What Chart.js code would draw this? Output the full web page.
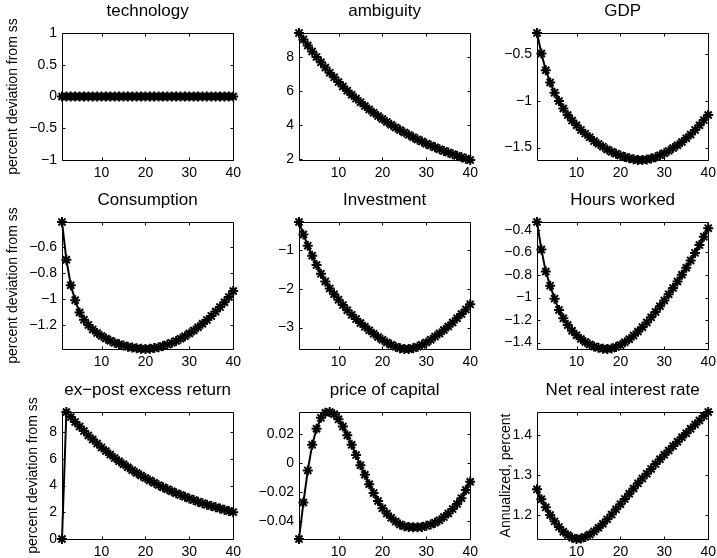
<!DOCTYPE html>
<html>
<head>
<meta charset="utf-8">
<script src="https://cdn.jsdelivr.net/npm/chart.js@4.4.1/dist/chart.umd.min.js"></script>
<style>
  html, body { margin: 0; padding: 0; background: #fff; }
  #fig { position: relative; width: 717px; height: 558px; overflow: hidden; }
  #fig canvas { position: absolute; }
</style>
</head>
<body>
<div id="fig"></div>
<script>
// quarters after the shock
const periods = [1, 2, 3, 4, 5, 6, 7, 8, 9, 10, 11, 12, 13, 14, 15, 16, 17, 18, 19, 20,
                 21, 22, 23, 24, 25, 26, 27, 28, 29, 30, 31, 32, 33, 34, 35, 36, 37, 38, 39, 40];
const xTicks = [10, 20, 30, 40];

// impulse responses
const technology = [0, 0, 0, 0, 0, 0, 0, 0, 0, 0, 0, 0, 0, 0, 0, 0, 0, 0, 0, 0,
                    0, 0, 0, 0, 0, 0, 0, 0, 0, 0, 0, 0, 0, 0, 0, 0, 0, 0, 0, 0];
const ambiguity = [9.45, 9.07, 8.71, 8.36, 8.03, 7.71, 7.40, 7.10, 6.82, 6.54,
                   6.28, 6.03, 5.79, 5.56, 5.34, 5.12, 4.92, 4.72, 4.53, 4.35,
                   4.18, 4.01, 3.85, 3.70, 3.55, 3.41, 3.27, 3.14, 3.01, 2.89,
                   2.78, 2.67, 2.56, 2.46, 2.36, 2.26, 2.17, 2.09, 2.00, 1.92];
const gdp = [-0.27, -0.49, -0.67, -0.80, -0.91, -1.00, -1.08, -1.15, -1.21, -1.26,
             -1.31, -1.35, -1.39, -1.43, -1.46, -1.49, -1.52, -1.545, -1.565, -1.585,
             -1.60, -1.615, -1.625, -1.632, -1.633, -1.628, -1.618, -1.603, -1.583, -1.56,
             -1.535, -1.505, -1.475, -1.44, -1.40, -1.36, -1.31, -1.26, -1.205, -1.15];
const consumption = [-0.41, -0.70, -0.895, -1.01, -1.105, -1.16, -1.20, -1.235, -1.262, -1.285,
                     -1.305, -1.322, -1.337, -1.349, -1.359, -1.367, -1.374, -1.379, -1.383, -1.385,
                     -1.383, -1.378, -1.371, -1.362, -1.351, -1.338, -1.323, -1.306, -1.287, -1.266,
                     -1.243, -1.218, -1.191, -1.162, -1.131, -1.098, -1.063, -1.026, -0.985, -0.94];
const investment = [-0.28, -0.60, -0.89, -1.15, -1.39, -1.61, -1.81, -1.99, -2.14, -2.28,
                    -2.42, -2.55, -2.67, -2.78, -2.88, -2.98, -3.07, -3.16, -3.24, -3.31,
                    -3.38, -3.44, -3.49, -3.53, -3.55, -3.55, -3.53, -3.49, -3.44, -3.38,
                    -3.31, -3.23, -3.15, -3.06, -2.97, -2.87, -2.76, -2.65, -2.53, -2.40];
const hours = [-0.33, -0.575, -0.77, -0.895, -1.01, -1.11, -1.185, -1.245, -1.295, -1.335,
               -1.368, -1.395, -1.417, -1.434, -1.446, -1.454, -1.457, -1.452, -1.44, -1.422,
               -1.398, -1.37, -1.338, -1.302, -1.263, -1.221, -1.176, -1.128, -1.078, -1.026,
               -0.972, -0.916, -0.858, -0.798, -0.736, -0.671, -0.604, -0.535, -0.46, -0.385];
const excessReturn = [0, 9.50, 9.12, 8.76, 8.41, 8.07, 7.75, 7.44, 7.14, 6.85,
                      6.58, 6.32, 6.06, 5.82, 5.59, 5.36, 5.15, 4.94, 4.75, 4.56,
                      4.37, 4.20, 4.03, 3.87, 3.72, 3.57, 3.42, 3.29, 3.16, 3.03,
                      2.91, 2.79, 2.68, 2.57, 2.47, 2.37, 2.28, 2.19, 2.10, 2.01];
const priceCapital = [-0.052, -0.027, -0.005, 0.0125, 0.0235, 0.031, 0.0345, 0.035, 0.0335, 0.030,
                      0.025, 0.019, 0.0125, 0.0055, -0.0015, -0.008, -0.0145, -0.0205, -0.026, -0.031,
                      -0.0345, -0.0375, -0.040, -0.042, -0.0432, -0.0438, -0.044, -0.044, -0.0437, -0.043,
                      -0.042, -0.0408, -0.0392, -0.037, -0.0345, -0.0315, -0.028, -0.024, -0.0185, -0.0128];
const realRate = [1.264, 1.239, 1.219, 1.200, 1.184, 1.170, 1.158, 1.150, 1.143, 1.140,
                  1.141, 1.145, 1.151, 1.159, 1.168, 1.178, 1.189, 1.201, 1.214, 1.227,
                  1.240, 1.253, 1.266, 1.279, 1.291, 1.303, 1.315, 1.327, 1.339, 1.350,
                  1.361, 1.372, 1.383, 1.394, 1.404, 1.415, 1.426, 1.436, 1.447, 1.457];

// y tick labels per panel
const techTicks = [-1, -0.5, 0, 0.5, 1];
const ambTicks = [2, 4, 6, 8];
const gdpTicks = [-1.5, -1, -0.5];
const consTicks = [-1.2, -1, -0.8, -0.6];
const invTicks = [-3, -2, -1];
const hoursTicks = [-1.4, -1.2, -1, -0.8, -0.6, -0.4];
const excessTicks = [0, 2, 4, 6, 8];
const priceTicks = [-0.04, -0.02, 0, 0.02];
const rateTicks = [1.2, 1.3, 1.4];

const yLabelDev = 'percent deviation from ss';
const yLabelRate = 'Annualized, percent';

// =======================================================
// LAYOUT (matlab subplot 3x3)
// =======================================================
const colLeft = [62, 299, 537];
const rowTop = [33, 222, 412];
const boxW = 172, boxH = 127;
const padL = 62, padT = 33, padR = 12, padB = 24;

Chart.defaults.font.family = '"Liberation Sans", Arial, Helvetica, sans-serif';
Chart.defaults.color = '#000';

const fmt = v => (v < 0 ? '\u2212' : '') + String(Math.abs(v));

// frame on all four sides with inward ticks, like matlab's "box on"
const matlabBox = {
    id: 'matlabBox',
    afterDraw(chart) {
        const { ctx, chartArea: a, scales: { x, y } } = chart;
        const L = Math.round(a.left) + 0.5, R = Math.round(a.right) + 0.5;
        const T = Math.round(a.top) + 0.5, B = Math.round(a.bottom) + 0.5;
        const tl = 3;
        ctx.save();
        ctx.strokeStyle = '#000';
        ctx.lineWidth = 1;
        ctx.beginPath();
        ctx.rect(L, T, R - L, B - T);
        x.ticks.forEach(t => {
            const px = Math.round(x.getPixelForValue(t.value)) + 0.5;
            ctx.moveTo(px, B); ctx.lineTo(px, B - tl);
            ctx.moveTo(px, T); ctx.lineTo(px, T + tl);
        });
        y.ticks.forEach(t => {
            const py = Math.round(y.getPixelForValue(t.value)) + 0.5;
            ctx.moveTo(L, py); ctx.lineTo(L + tl, py);
            ctx.moveTo(R, py); ctx.lineTo(R - tl, py);
        });
        ctx.stroke();
        ctx.restore();
    }
};

function makePanel(p) {
    const canvas = document.createElement('canvas');
    canvas.width = padL + boxW + padR;
    canvas.height = padT + boxH + padB;
    canvas.style.left = (colLeft[p.col] - padL) + 'px';
    canvas.style.top = (rowTop[p.row] - padT) + 'px';
    document.getElementById('fig').appendChild(canvas);

    // matlab "axis tight"
    const yMin = p.yMin !== undefined ? p.yMin : Math.min(...p.values);
    const yMax = p.yMax !== undefined ? p.yMax : Math.max(...p.values);

    new Chart(canvas, {
        type: 'line',
        data: {
            datasets: [{
                data: periods.map((t, i) => ({ x: t, y: p.values[i] })),
                borderColor: '#000',
                borderWidth: 2,
                pointStyle: 'star',
                pointRadius: 5,
                pointBorderColor: '#000',
                pointBackgroundColor: '#000',
                pointBorderWidth: 2,
                tension: 0,
                clip: false
            }]
        },
        plugins: [matlabBox],
        options: {
            responsive: false,
            animation: false,
            events: [],
            layout: { padding: { left: 0, right: padR, top: 0, bottom: 0 } },
            plugins: {
                legend: { display: false },
                tooltip: { enabled: false },
                title: {
                    display: true,
                    text: p.title,
                    fullSize: false,
                    color: '#000',
                    font: { size: 17, weight: 'normal', lineHeight: 1.2 },
                    padding: { top: 1.6, bottom: 11 }
                }
            },
            scales: {
                x: {
                    type: 'linear',
                    min: 1,
                    max: 40,
                    afterBuildTicks: s => { s.ticks = xTicks.map(v => ({ value: v })); },
                    afterFit: s => { s.height = padB; },
                    grid: { display: false, drawTicks: false },
                    border: { display: false },
                    ticks: { autoSkip: false, maxRotation: 0, padding: 5, font: { size: 14 }, color: '#000' }
                },
                y: {
                    min: yMin,
                    max: yMax,
                    afterBuildTicks: s => { s.ticks = p.yTicks.map(v => ({ value: v })); },
                    afterFit: s => { s.width = padL; },
                    grid: { display: false, drawTicks: false },
                    border: { display: false },
                    ticks: { autoSkip: false, padding: 5, font: { size: 14 }, color: '#000', callback: fmt },
                    title: {
                        display: !!p.yLabel,
                        text: p.yLabel || '',
                        color: '#000',
                        font: { size: 14, lineHeight: 1.2 },
                        padding: { top: p.yLabelPad || 0, bottom: 0 }
                    }
                }
            }
        }
    });
}

makePanel({ row: 0, col: 0, title: 'technology', values: technology, yTicks: techTicks, yMin: -1, yMax: 1, yLabel: yLabelDev, yLabelPad: 4.6 });
makePanel({ row: 0, col: 1, title: 'ambiguity', values: ambiguity, yTicks: ambTicks });
makePanel({ row: 0, col: 2, title: 'GDP', values: gdp, yTicks: gdpTicks });
makePanel({ row: 1, col: 0, title: 'Consumption', values: consumption, yTicks: consTicks, yLabel: yLabelDev, yLabelPad: 4.6 });
makePanel({ row: 1, col: 1, title: 'Investment', values: investment, yTicks: invTicks });
makePanel({ row: 1, col: 2, title: 'Hours worked', values: hours, yTicks: hoursTicks });
makePanel({ row: 2, col: 0, title: 'ex\u2212post excess return', values: excessReturn, yTicks: excessTicks, yLabel: yLabelDev, yLabelPad: 24.6 });
makePanel({ row: 2, col: 1, title: 'price of capital', values: priceCapital, yTicks: priceTicks });
makePanel({ row: 2, col: 2, title: 'Net real interest rate', values: realRate, yTicks: rateTicks, yLabel: yLabelRate, yLabelPad: 22.6 });
</script>
</body>
</html>
